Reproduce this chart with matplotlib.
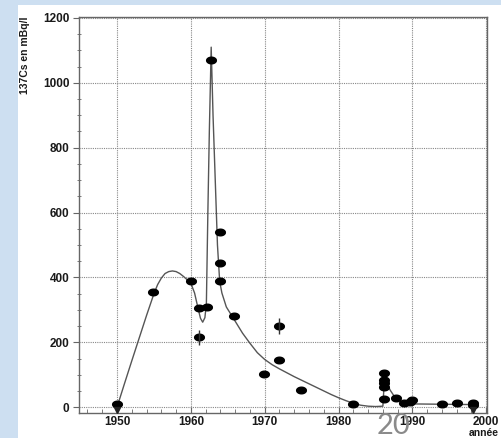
import numpy as np
import matplotlib
matplotlib.use("Agg")
import matplotlib.pyplot as plt
from matplotlib.patches import Rectangle

plt.rcParams['font.family'] = ['Liberation Sans', 'DejaVu Sans']

# measured points (year, 137Cs in mBq/l)
years = [1950, 1954.9, 1960, 1961.1, 1961.1, 1962.2, 1962.7,
         1963.9, 1963.9, 1963.9, 1965.9, 1969.9, 1971.9, 1971.9,
         1974.9, 1982.0, 1986.2, 1986.2, 1986.2, 1986.2, 1986.2,
         1987.8, 1988.9, 1989.7, 1989.9, 1994.0, 1996.0, 1998.2, 1998.2]
values = [10, 355, 390, 305, 215, 310, 1070,
          540, 445, 388, 282, 102, 250, 145,
          52, 9, 105, 83, 74, 62, 25,
          28, 12, 15, 22, 9, 12, 12, 6]

# points with visible error bars
err_years = [1961.1, 1971.9]
err_values = [215, 250]
err_sizes = [22, 25]

# detection-limit arrows
limit_years = [1950, 1998.2]

# fitted curve
curve_years = [1950, 1951, 1952, 1953, 1954, 1955, 1955.5, 1956, 1956.5,
               1957, 1957.5, 1958, 1958.5, 1959, 1959.5, 1960, 1960.5,
               1961, 1961.3, 1961.6, 1961.9, 1962.1, 1962.3, 1962.5,
               1962.75, 1963.0, 1963.3, 1963.6, 1963.9, 1964.2, 1964.8,
               1966, 1967, 1968, 1969, 1970, 1971, 1972, 1973, 1974,
               1975, 1976, 1977, 1978, 1979, 1980, 1981, 1982, 1983, 1984,
               1985, 1986.0, 1986.2, 1986.6, 1987, 1987.5, 1988, 1988.5,
               1989, 1990, 1994, 1998.2]
curve_values = [0, 72, 143, 213, 283, 350, 378, 398, 412,
                418, 420, 418, 412, 403, 393, 382, 352,
                302, 274, 262, 276, 320, 600, 850,
                1110, 900, 700, 500, 388, 352, 309,
                265, 228, 197, 168, 147, 131, 118, 106, 94,
                83, 72, 61, 50, 39, 29, 20, 12, 6, 3,
                2, 3, 82, 70, 52, 35, 24, 16,
                12, 10, 9, 8]

y_ticks = [0, 200, 400, 600, 800, 1000, 1200]
x_ticks = [1950, 1960, 1970, 1980, 1990, 2000]


def main():
    W, H = 502, 438
    fig = plt.figure(figsize=(W / 100, H / 100), dpi=100)
    fig.patch.set_facecolor('#cddff1')
    # white scanned page, kept behind the axes
    fig.patches.append(Rectangle((18 / W, 0), 1, 1 - 5 / H, transform=fig.transFigure,
                                 facecolor='white', edgecolor='none', zorder=-5))

    ax = fig.add_axes([79 / W, (H - 413) / H, (487 - 79) / W, (413 - 17) / H])
    ax.set_facecolor('white')

    ax.plot(curve_years, curve_values, color='#555555', lw=1.0, zorder=3)

    t = np.linspace(0, 2 * np.pi, 40)
    ellipse = np.column_stack([np.cos(t), 0.68 * np.sin(t)])
    ax.plot(years, values, ls='none', marker=ellipse, ms=7, color='black', zorder=4)
    ax.errorbar(err_years, err_values, yerr=err_sizes, fmt='none', ecolor='#333333',
                elinewidth=1, capsize=0, zorder=4)
    ax.plot(limit_years, [-9] * len(limit_years), ls='none', marker='v', ms=4,
            color='#222222', zorder=4)

    ax.set_xlim(1944.85, 2000.1)
    ax.set_ylim(-18, 1203)
    ax.set_xticks(x_ticks)
    ax.set_yticks(y_ticks)
    ax.set_xticks(np.arange(1946, 2000, 2), minor=True)
    ax.set_yticks(np.arange(0, 1200, 50), minor=True)
    ax.grid(True, which='major', ls=(0, (1, 1)), color='#888888', lw=0.8)

    for s in ax.spines.values():
        s.set_color('#666666')
        s.set_linewidth(1.0)
    ax.tick_params(axis='both', which='both', color='#666666')
    ax.tick_params(axis='x', which='major', direction='in', length=4, pad=2)
    ax.tick_params(axis='x', which='minor', direction='in', length=3)
    ax.tick_params(axis='y', which='major', direction='out', length=4, pad=3)
    ax.tick_params(axis='y', which='minor', direction='inout', length=3)
    ax.tick_params(labelsize=8.5)
    for lab in ax.get_xticklabels() + ax.get_yticklabels():
        lab.set_fontweight('bold')
        lab.set_color('#1a1a1a')

    fig.text(25 / W, 1 - 16 / H, '137Cs en mBq/l', rotation=90, ha='center', va='top',
             fontsize=7.5, fontweight='bold', color='#1a1a1a')
    fig.text(484 / W, 1 - 433 / H, 'année', ha='center', va='center',
             fontsize=7.5, fontweight='bold', color='#1a1a1a')
    fig.text(394 / W, 1 - 426 / H, '20', ha='center', va='center',
             fontsize=21, family=['Lato', 'DejaVu Sans'],
             color='#8a8a8a', zorder=5)

    fig.savefig('out.png', dpi=100, facecolor=fig.get_facecolor())


if __name__ == "__main__":
    main()
